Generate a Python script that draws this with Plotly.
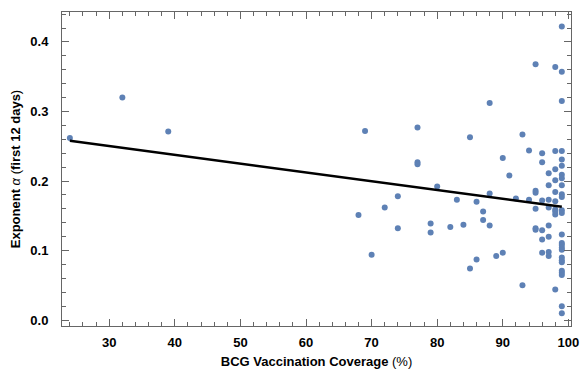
import plotly.graph_objects as go

coverage = [24, 32, 39, 68, 69, 70, 72, 74, 74, 77, 77, 77, 79, 79, 80, 82, 83, 84, 85, 85,
            86, 86, 87, 87, 88, 88, 88, 89, 90, 90, 91, 92, 93, 93, 94, 94,
            95, 95, 95, 95, 95, 95,
            96, 96, 96, 96, 96, 96,
            97, 97, 97, 97, 97, 97, 97, 97,
            98, 98, 98, 98, 98, 98, 98, 98, 98, 98,
            99, 99, 99, 99, 99, 99, 99, 99, 99, 99, 99, 99, 99, 99, 99, 99, 99, 99, 99, 99,
            99, 99, 99, 99, 99, 99]
exponent = [0.262, 0.320, 0.271, 0.151, 0.272, 0.094, 0.162, 0.178, 0.132, 0.277, 0.227, 0.224,
            0.139, 0.126, 0.192, 0.134, 0.173, 0.137, 0.263, 0.074,
            0.170, 0.087, 0.156, 0.144, 0.312, 0.182, 0.136, 0.092, 0.233, 0.097, 0.208, 0.175,
            0.267, 0.050, 0.244, 0.173,
            0.368, 0.186, 0.183, 0.160, 0.132, 0.130,
            0.240, 0.227, 0.172, 0.129, 0.116, 0.097,
            0.211, 0.194, 0.173, 0.162, 0.136, 0.120, 0.098, 0.092,
            0.364, 0.243, 0.217, 0.201, 0.184, 0.171, 0.159, 0.156, 0.152, 0.044,
            0.422, 0.357, 0.315, 0.243, 0.231, 0.222, 0.209, 0.204, 0.194, 0.181, 0.177, 0.158,
            0.154, 0.123, 0.111, 0.108, 0.104, 0.101, 0.090, 0.086,
            0.083, 0.071, 0.068, 0.065, 0.020, 0.010]

fit_x = [24, 99]
fit_y = [0.258, 0.163]

x_ticks = [30, 40, 50, 60, 70, 80, 90, 100]
x_tick_labels = ["30", "40", "50", "60", "70", "80", "90", "100"]
y_ticks = [0.0, 0.1, 0.2, 0.3, 0.4]
y_tick_labels = ["0.0", "0.1", "0.2", "0.3", "0.4"]

FONT = "Liberation Sans, Arial"

fig = go.Figure()
fig.add_trace(go.Scatter(x=coverage, y=exponent, mode="markers",
                         marker=dict(size=6, color="#5e81b5"), showlegend=False))
fig.add_trace(go.Scatter(x=fit_x, y=fit_y, mode="lines",
                         line=dict(color="black", width=2.5), showlegend=False))

axis_common = dict(showline=True, linecolor="#666666", linewidth=1, mirror="allticks",
                   ticks="inside", ticklen=7, tickcolor="#666666", tickwidth=1,
                   showgrid=False, zeroline=False,
                   tickfont=dict(family=FONT, size=13, color="black"))

fig.update_xaxes(range=[22.8, 100.4], tickvals=x_ticks,
                 ticktext=["<b>%s</b>" % t for t in x_tick_labels],
                 minor=dict(dtick=2, ticks="inside", ticklen=4, tickcolor="#666666", showgrid=False),
                 title=dict(text="<b>BCG Vaccination Coverage</b> (%)", standoff=8,
                            font=dict(family=FONT, size=13, color="black")),
                 ticklabelstandoff=4,
                 **axis_common)
fig.update_yaxes(range=[-0.0085, 0.443], tickvals=y_ticks,
                 ticktext=["<b>%s</b>" % t for t in y_tick_labels],
                 minor=dict(dtick=0.02, ticks="inside", ticklen=4, tickcolor="#666666", showgrid=False),
                 title=dict(text="<b>Exponent</b> <i>α</i> (<b>first 12 days</b>)", standoff=6,
                            font=dict(family=FONT, size=13, color="black")),
                 ticklabelstandoff=10,
                 **axis_common)

fig.update_layout(width=587, height=375, margin=dict(l=62, r=8, t=12, b=44),
                  plot_bgcolor="white", paper_bgcolor="white")

fig.write_html("out.html")
